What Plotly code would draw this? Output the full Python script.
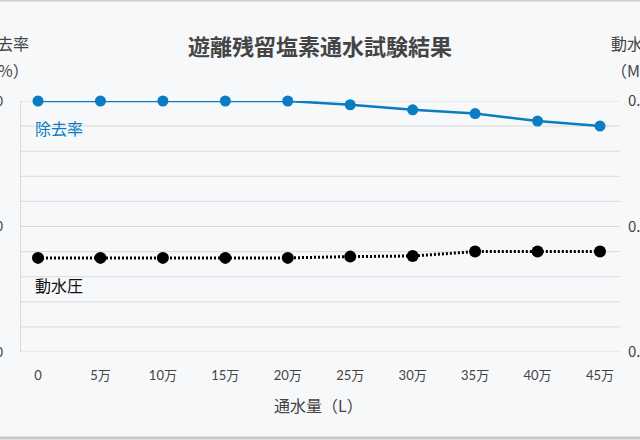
import plotly.graph_objects as go

categories = ["0", "5万", "10万", "15万", "20万", "25万", "30万", "35万", "40万", "45万"]
removal_rate = [100, 100, 100, 100, 100, 99.7, 99.3, 99.0, 98.4, 98.0]
pressure = [0.175, 0.175, 0.175, 0.175, 0.175, 0.176, 0.1765, 0.18, 0.18, 0.18]
left_ticks = [80, 90, 100]
right_ticks = [0.1, 0.2, 0.3]

FONT = "Noto Sans CJK JP"
BLUE = "#0a7cc2"
GRID = "#d9dadc"
TXT = "#444444"

fig = go.Figure()
fig.add_trace(go.Scatter(
    x=categories, y=removal_rate, mode="lines+markers", name="除去率",
    line=dict(color=BLUE, width=2.5), marker=dict(color=BLUE, size=11),
    yaxis="y", cliponaxis=False))
fig.add_trace(go.Scatter(
    x=categories, y=pressure, mode="lines+markers", name="動水圧",
    line=dict(color="black", width=3, dash="2px,2px"), marker=dict(color="black", size=12),
    yaxis="y2", cliponaxis=False))

fig.update_layout(
    width=640, height=440,
    margin=dict(l=21, r=20, t=101, b=88, autoexpand=False),
    paper_bgcolor="#f7f8fa", plot_bgcolor="#f7f8fa",
    showlegend=False,
    font=dict(family=FONT, color=TXT),
    title=dict(text="<b>遊離残留塩素通水試験結果</b>", x=0.5, xanchor="center",
               y=1 - 47 / 440, yanchor="middle",
               font=dict(size=22, color=TXT, family=FONT)),
    xaxis=dict(type="category", range=[-0.2722, 9.3203], showgrid=False, automargin=False,
               zeroline=False, showline=False, ticks="",
               tickfont=dict(size=13, color=TXT, family="Lato, " + FONT),
               ticklabelstandoff=14),
    yaxis=dict(range=[80, 100], tickvals=left_ticks, ticktext=[str(v) for v in left_ticks],
               showgrid=False, zeroline=False, showline=True, linecolor=GRID, linewidth=1,
               automargin=False,
               ticks="", tickfont=dict(size=14, color=TXT), ticklabelstandoff=14),
    yaxis2=dict(range=[0.1, 0.3], overlaying="y", side="right", automargin=False,
                tickvals=right_ticks, ticktext=[f"{v:.1f}" for v in right_ticks],
                showgrid=False, zeroline=False, showline=False, ticks="",
                tickfont=dict(size=15, color=TXT), ticklabelstandoff=7),
)

# horizontal gridlines every 2% of left axis (10 bands)
for i in range(11):
    v = 80 + 2 * i
    fig.add_shape(type="line", xref="paper", yref="y", x0=0, x1=1, y0=v, y1=v,
                  line=dict(color=GRID, width=1), layer="below")

# frame lines at top and bottom of the picture
fig.add_shape(type="line", xref="paper", yref="paper", x0=-0.1, x1=1.1,
              y0=1 + 101 / 251 - 0.5 / 251, y1=1 + 101 / 251 - 0.5 / 251,
              line=dict(color="#cfd0d2", width=2))
fig.add_shape(type="line", xref="paper", yref="paper", x0=-0.1, x1=1.1,
              y0=-(88 - 2) / 251, y1=-(88 - 2) / 251,
              line=dict(color="#c9cacc", width=3))

ann = [
    dict(text="除去率", x=31, y=43, xanchor="right", size=16, color=TXT),
    dict(text="（%）", x=31, y=70, xanchor="right", size=16, color=TXT),
    dict(text="動水圧", x=609, y=43, xanchor="left", size=16, color=TXT),
    dict(text="（MPa）", x=609, y=70, xanchor="left", size=16, color=TXT),
    dict(text="除去率", x=33, y=128, xanchor="left", size=16, color=BLUE),
    dict(text="動水圧", x=33, y=285, xanchor="left", size=16, color="#111111"),
    dict(text="通水量（L）", x=318, y=405, xanchor="center", size=16, color=TXT),
]
for a in ann:
    fig.add_annotation(text=a["text"], xref="paper", yref="paper",
                       x=(a["x"] - 21) / 599, y=(440 - 88 - a["y"]) / 251,
                       xanchor=a["xanchor"], yanchor="middle",
                       showarrow=False, font=dict(size=a["size"], color=a["color"], family=FONT))

fig.write_html("out.html", post_script="document.body.style.margin='0';",
               config={"displayModeBar": False})
